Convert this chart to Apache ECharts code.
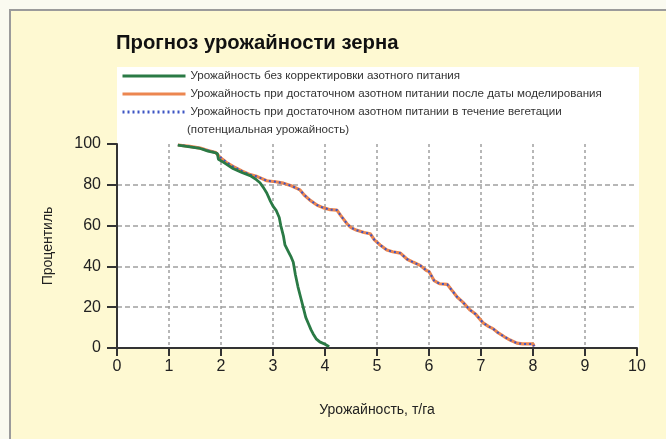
<!DOCTYPE html>
<html>
<head>
<meta charset="utf-8">
<script src="https://cdn.jsdelivr.net/npm/echarts@6/dist/echarts.min.js"></script>
<style>
html,body{margin:0;padding:0;background:#fafaf0;}
#c{width:666px;height:439px;}
</style>
</head>
<body>
<div id="c"></div>
<script>
const titleText = 'Прогноз урожайности зерна';
const seriesNames = [
  'Урожайность без корректировки азотного питания',
  'Урожайность при достаточном азотном питании после даты моделирования',
  'Урожайность при достаточном азотном питании в течение вегетации'
];
const legendExtraLine = '(потенциальная урожайность)';
const xAxisName = 'Урожайность, т/га';
const yAxisName = 'Процентиль';
const xTicks = [0,1,2,3,4,5,6,7,8,9,10];
const yTicks = [0,20,40,60,80,100];

// Series 1: without nitrogen correction (green)
const noCorrYield = [1.17,1.4,1.6,1.75,1.88,1.93,1.95,2.05,2.23,2.4,2.56,2.68,2.75,2.82,2.88,2.95,3.0,3.06,3.12,3.15,3.2,3.23,3.3,3.35,3.39,3.43,3.48,3.53,3.58,3.63,3.68,3.73,3.77,3.83,3.9,4.0,4.08];
const noCorrPct   = [99.5,98.6,97.8,96.5,95.8,95.3,92.5,91,88,86,84.5,82.5,81,78.5,76,72,69.5,67.5,64,60,55,50.5,47,44.5,42,36,30,25,20,15,12,9,7,4.5,3,1.8,0.6];

// Series 2: sufficient N after simulation date (orange)
const afterYield = [1.17,1.4,1.6,1.75,1.9,1.98,2.1,2.23,2.4,2.56,2.7,2.88,3.05,3.2,3.35,3.52,3.6,3.71,3.85,3.96,4.1,4.23,4.3,4.42,4.5,4.6,4.75,4.87,4.95,5.06,5.19,5.3,5.45,5.58,5.7,5.83,5.95,6.0,6.1,6.2,6.35,6.45,6.54,6.65,6.79,6.9,7.04,7.15,7.23,7.31,7.45,7.56,7.69,7.8,8.0,8.02];
const afterPct   = [99.5,98.8,98,96.8,95.8,93.5,91,89,86.8,85,84,82,81.5,80.8,79.5,77.5,75,72.5,70,68.8,67.8,67.6,65,61,59,57.8,56.6,56,53,50.5,48,47.2,46.5,43.5,42,40.5,38,37.5,33,31.5,31.2,28,25,22.5,18.6,16.5,12.3,10.5,9.5,7.8,5.5,3.9,2.4,2,2,0.8];

// Series 3: sufficient N during whole season (blue dotted)
const potYield = [1.17,1.4,1.6,1.75,1.9,1.98,2.1,2.23,2.4,2.56,2.7,2.88,3.05,3.2,3.35,3.52,3.6,3.71,3.85,3.96,4.1,4.23,4.3,4.42,4.5,4.6,4.75,4.87,4.95,5.06,5.19,5.3,5.45,5.58,5.7,5.83,5.95,6.0,6.1,6.2,6.35,6.45,6.54,6.65,6.79,6.9,7.04,7.15,7.23,7.31,7.45,7.56,7.69,7.8,8.0,8.02];
const potPct   = [99.5,98.8,98,96.9,95.9,93.6,91.2,89,86.8,85,84,82,81.5,80.8,79.5,77.5,75,72.5,70,68.8,67.8,67.6,65,61,59,57.8,56.6,56,53,50.5,48,47.2,46.5,43.5,42,40.5,38,37.5,33,31.5,31.2,28,25,22.5,18.6,16.5,12.3,10.5,9.5,7.8,5.5,3.9,2.4,2,2,0.8];

const zip = (xs, ys) => xs.map((x, i) => [x, ys[i]]);
const FONT = '"Liberation Sans", Arial, sans-serif';

const chart = echarts.init(document.getElementById('c'), null, {renderer: 'canvas'});
chart.setOption({
  backgroundColor: '#fafaf0',
  animation: false,
  title: {
    text: titleText, left: 111, top: 28,
    textStyle: {fontFamily: FONT, fontSize: 20.3, fontWeight: 'bold', color: '#111'}
  },
  graphic: [
    {type: 'rect', z: -10, shape: {x: 10, y: 10, width: 700, height: 500},
     style: {fill: '#fef9d2', stroke: '#9b9b9b', lineWidth: 2}},
    {type: 'rect', z: -9, shape: {x: 117, y: 67, width: 522, height: 281},
     style: {fill: '#ffffff'}},
    {type: 'text', left: 187, top: 124, z: 10,
     style: {text: legendExtraLine, font: '11.6px ' + FONT, fill: '#333'}}
  ],
  legend: {
    orient: 'vertical', left: 116, top: 64, itemWidth: 63, itemHeight: 3, itemGap: 4,
    itemStyle: {opacity: 0},
    lineStyle: {width: 3},
    textStyle: {fontFamily: FONT, fontSize: 11.6, color: '#333', lineHeight: 14},
    data: seriesNames
  },
  grid: {left: 117, right: 29, top: 144, bottom: 91, containLabel: false},
  xAxis: {
    type: 'value', min: 0, max: 10, interval: 1,
    name: xAxisName, nameLocation: 'middle', nameGap: 55,
    nameTextStyle: {fontFamily: FONT, fontSize: 14, color: '#222'},
    axisLine: {show: true, lineStyle: {color: '#333', width: 2}},
    axisTick: {show: true, length: 8, lineStyle: {color: '#333', width: 2}},
    axisLabel: {margin: 11, fontFamily: FONT, fontSize: 16, color: '#222',
      formatter: v => xTicks.includes(v) ? String(v) : ''},
    splitLine: {show: true, showMinLine: false, showMaxLine: false,
      lineStyle: {color: '#a0a0a0', type: [3, 3], width: 1.5}}
  },
  yAxis: {
    type: 'value', min: 0, max: 100, interval: 20,
    name: yAxisName, nameLocation: 'middle', nameGap: 62, nameRotate: 90,
    nameTextStyle: {fontFamily: FONT, fontSize: 14, color: '#222'},
    axisLine: {show: true, lineStyle: {color: '#333', width: 2}},
    axisTick: {show: true, length: 10, lineStyle: {color: '#333', width: 2}},
    axisLabel: {margin: 16, fontFamily: FONT, fontSize: 16, color: '#222',
      formatter: v => yTicks.includes(v) ? String(v) : ''},
    splitLine: {show: true, showMinLine: false, showMaxLine: false,
      lineStyle: {color: '#a0a0a0', type: [5, 3], width: 1.5}}
  },
  series: [
    {name: seriesNames[0], type: 'line', data: zip(noCorrYield, noCorrPct), symbol: 'none',
     z: 4, lineStyle: {color: '#2a7a45', width: 2.8}, itemStyle: {color: '#2a7a45'}},
    {name: seriesNames[1], type: 'line', data: zip(afterYield, afterPct), symbol: 'none',
     z: 2, lineStyle: {color: '#ec8650', width: 3.2}, itemStyle: {color: '#ec8650'}},
    {name: seriesNames[2], type: 'line', data: zip(potYield, potPct), symbol: 'none',
     z: 3, lineStyle: {color: '#3d55c4', width: 2, type: [2, 3]}, itemStyle: {color: '#3d55c4'}}
  ]
});
</script>
</body>
</html>
